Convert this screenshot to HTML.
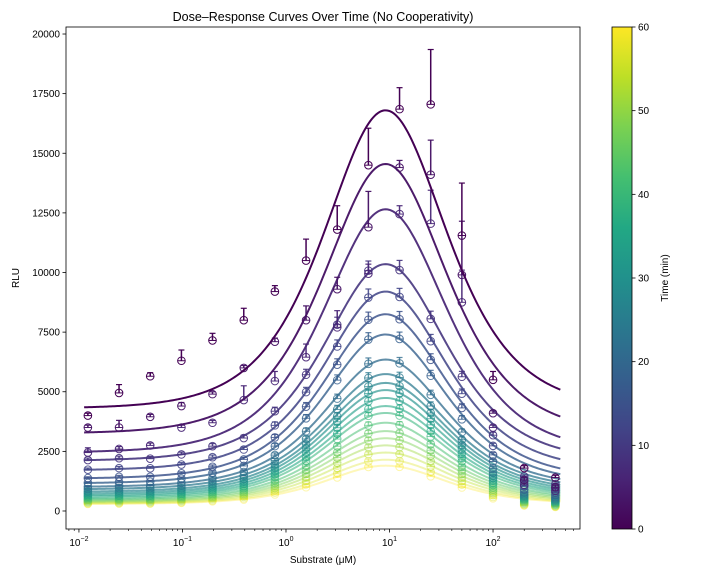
<!DOCTYPE html>
<html><head><meta charset="utf-8"><style>
html,body{margin:0;padding:0;background:#fff;}
svg{display:block;font-family:"Liberation Sans","DejaVu Sans",sans-serif;}
</style></head><body>
<svg id="chart" width="720" height="576" viewBox="0 0 720 576" xmlns="http://www.w3.org/2000/svg">
<text x="323" y="21" text-anchor="middle" font-size="12.5" fill="#000">Dose–Response Curves Over Time (No Cooperativity)</text>
<text x="323" y="563" text-anchor="middle" font-size="10" fill="#000">Substrate (μM)</text>
<text transform="translate(19,278) rotate(-90)" text-anchor="middle" font-size="10" fill="#000">RLU</text>
<text transform="translate(668,278) rotate(-90)" text-anchor="middle" font-size="10" fill="#000">Time (min)</text>
<g id="plot"></g>
</svg>
<script>
// ---- data ----
const concentrations = [0.0122,0.0244,0.0488,0.0977,0.195,0.391,0.781,1.5625,3.125,6.25,12.5,25,50,100,200,400];
const times = [0,3,6,9,12,15,18,21,24,27,30,33,36,39,42,45,48,51,54,57,60];
const baselines = [4300,3250,2450,2100,1700,1350,1150,1000,900,800,720,650,590,530,480,440,400,370,340,310,290];
const peaks = [16800,14550,12650,10350,9200,8250,7400,6350,5740,5370,5070,4740,4400,4110,3700,3350,3050,2750,2450,2150,1900];
const pointsT0 = [4000,4950,5650,6300,7150,8000,9200,10500,11800,14500,16850,17050,11550,5500,1800,1400];
const errT0 = [100,350,150,450,300,500,250,900,1000,1550,900,2300,2200,350,100,100];
const pointsT1 = [3500,3500,3950,4400,4900,6000,7100,8000,9300,11900,14400,14100,9900,4100,1300,1000];
const errT1 = [100,300,100,150,100,100,150,600,500,1500,300,1450,2250,100,100,80];
const pointsT2 = [2450,2600,2750,3500,3700,4650,5450,6450,7700,9950,12450,12050,8750,3500,1100,850];
const errT2 = [200,100,100,100,100,600,400,550,700,400,350,1400,1350,100,80,80];
const residuals = [1.0,1.02,0.98,1.0,1.03,0.97,1.02,1.0,0.98,1.01,1.0,0.98,0.95,0.75,0.45,0.42];
const yTicks = [0,2500,5000,7500,10000,12500,15000,17500,20000];
const xTickExps = [-2,-1,0,1,2];
const cbTicks = [0,10,20,30,40,50,60];
const Km = 8, Ki = 10.5;

// ---- geometry ----
const L=66,R=580,T=27,B=529;
const xMinLog=-2.125, xMaxLog=2.84, yMin=-755, yMax=20294;
const xs = v => L + (Math.log10(v)-xMinLog)/(xMaxLog-xMinLog)*(R-L);
const ys = v => B - (v-yMin)/(yMax-yMin)*(B-T);
const NS="http://www.w3.org/2000/svg";
const plot=document.getElementById('plot');
function mk(tag,attrs,parent){const e=document.createElementNS(NS,tag);for(const k in attrs)e.setAttribute(k,attrs[k]);(parent||plot).appendChild(e);return e;}

const vir=["#440154","#482475","#414487","#355f8d","#2a788e","#21918c","#22a884","#44bf70","#7ad151","#bddf26","#fde725"];
function hex(h){return [1,3,5].map(i=>parseInt(h.substr(i,2),16));}
function viridis(t){t=Math.max(0,Math.min(1,t));const p=t*10,i=Math.min(9,Math.floor(p)),f=p-i;const a=hex(vir[i]),b=hex(vir[i+1]);return 'rgb('+a.map((v,k)=>Math.round(v+(b[k]-v)*f)).join(',')+')';}

function model(i,s){const b=baselines[i];const sp=Math.sqrt(Km*Ki);const A=(peaks[i]-b)*(Km+sp+sp*sp/Ki)/sp;return b+A*s/(Km+s+s*s/Ki);}

mk('rect',{x:L,y:T,width:R-L,height:B-T,fill:'#fff'});
const clip=mk('clipPath',{id:'clipArea'});mk('rect',{x:L,y:T,width:R-L,height:B-T},clip);

const series=mk('g',{'clip-path':'url(#clipArea)'});



for(let i=times.length-1;i>=0;i--){
  const col=viridis(times[i]/60);
  const alpha=1-0.68*(times[i]/60);
  const g=mk('g',{},series);
  
  
  let d='';
  for(let k=0;k<=300;k++){const lg=-1.95+k/300*(2.65+1.95);const s=Math.pow(10,lg);d+=(k?'L':'M')+xs(s).toFixed(2)+' '+ys(model(i,s)).toFixed(2);}
  const path=mk('path',{d:d,fill:'none',stroke:col,'stroke-width':2,'stroke-opacity':alpha},g);
  
  
  const pts=i===0?pointsT0:i===1?pointsT1:i===2?pointsT2:null;
  const errs=i===0?errT0:i===1?errT1:i===2?errT2:null;
  concentrations.forEach((c,j)=>{
    const v=pts?pts[j]:model(i,c)*residuals[j];
    const e=errs?errs[j]:v*0.04;
    const cx=xs(c),cy=ys(v),ey=ys(v+e);
    const pg=mk('g',{stroke:col,'stroke-opacity':Math.min(1,alpha*0.9+0.1),fill:'none'},g);
    
    
    mk('line',{x1:cx,y1:cy,x2:cx,y2:ey,'stroke-width':1.5},pg);
    mk('line',{x1:cx-3,y1:ey,x2:cx+3,y2:ey,'stroke-width':1.2},pg);
    mk('line',{x1:cx-4,y1:cy,x2:cx+4,y2:cy,'stroke-width':1},pg);
    mk('circle',{cx:cx,cy:cy,r:3.8,'stroke-width':1},pg);
  });
}

// axes frame
const frame=mk('rect',{x:L,y:T,width:R-L,height:B-T,fill:'none',stroke:'#000','stroke-width':0.8});



// y ticks
yTicks.forEach(v=>{
  const y=ys(v);
  mk('line',{x1:L-3.5,y1:y,x2:L,y2:y,stroke:'#000','stroke-width':0.8});
  const t=mk('text',{x:L-6,y:y+3.5,'text-anchor':'end','font-size':10,fill:'#000'});
  t.textContent=String(v);
  
  
});
// x ticks
for(let e=-3;e<=3;e++){
  for(let m=1;m<10;m++){
    const v=m*Math.pow(10,e);const x=xs(v);
    if(x<L-0.1||x>R+0.1)continue;
    mk('line',{x1:x,y1:B,x2:x,y2:B+(m===1?3.5:2),stroke:'#000','stroke-width':m===1?0.8:0.6});
  }
}
xTickExps.forEach(e=>{
  const x=xs(Math.pow(10,e));
  const t=mk('text',{x:x,y:B+17,'text-anchor':'middle','font-size':10,fill:'#000'});
  
  
  const a=document.createElementNS(NS,'tspan');a.textContent='10';t.appendChild(a);
  const b=document.createElementNS(NS,'tspan');b.setAttribute('dy','-5');b.setAttribute('font-size','7');b.textContent=(e<0?'−':'')+Math.abs(e);t.appendChild(b);
});

// colorbar
const CX=612,CW=20;
const defs=mk('defs',{});
const lg=mk('linearGradient',{id:'vg',x1:0,y1:1,x2:0,y2:0},defs);
vir.forEach((c,i)=>mk('stop',{offset:(i*10)+'%','stop-color':c},lg));
const cb=mk('rect',{x:CX,y:T,width:CW,height:B-T,fill:'url(#vg)',stroke:'#000','stroke-width':0.8});


cbTicks.forEach(v=>{
  const y=B-(v/60)*(B-T);
  mk('line',{x1:CX+CW,y1:y,x2:CX+CW+3.5,y2:y,stroke:'#000','stroke-width':0.8});
  const t=mk('text',{x:CX+CW+6,y:y+3.5,'font-size':10,fill:'#000'});
  t.textContent=String(v);
  
  
});
</script>
</body></html>
